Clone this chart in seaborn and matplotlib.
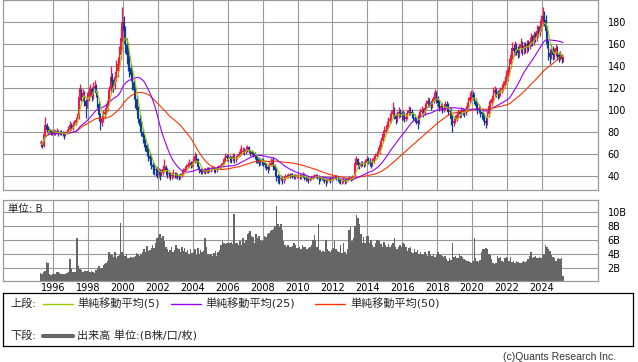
import numpy as np
import pandas as pd
import seaborn as sns
import matplotlib.pyplot as plt

sns.set_theme(style="whitegrid")
plt.rcParams['font.family'] = ['DejaVu Sans', 'Noto Sans CJK JP']

# monthly candles, first one is April 1995
start_year = 1995
start_month = 4

close = [
    70, 67, 78, 86, 82, 81, 82, 80, 79,                      # 1995 Apr-Dec
    80, 79, 81, 78, 80, 79, 78, 77, 79, 80, 82, 86,          # 1996
    84, 86, 88, 91, 93, 112, 118, 112, 115, 108, 104, 112,   # 1997
    116, 119, 112, 120, 122, 115, 105, 95, 88, 92, 96, 98,   # 1998
    102, 108, 118, 130, 125, 122, 130, 135, 142, 150, 165, 180,  # 1999
    172, 160, 150, 142, 138, 132, 125, 118, 110, 100, 92, 85,    # 2000
    80, 75, 70, 68, 62, 58, 55, 50, 48, 46, 45, 44,          # 2001
    44, 42, 43, 46, 48, 45, 42, 42, 40, 41, 42, 41,          # 2002
    41, 40, 39, 40, 42, 44, 46, 48, 50, 52, 50, 51,          # 2003
    54, 58, 55, 48, 45, 44, 44, 45, 44, 46, 45, 46,          # 2004
    46, 47, 46, 45, 47, 48, 48, 50, 52, 55, 58, 56,          # 2005
    57, 56, 55, 58, 55, 56, 58, 60, 62, 62, 63, 62,          # 2006
    64, 66, 63, 60, 62, 60, 58, 56, 55, 52, 54, 53,          # 2007
    52, 50, 48, 46, 50, 52, 52, 50, 45, 40, 38, 37,          # 2008
    38, 36, 37, 39, 40, 41, 40, 41, 40, 39, 40, 40,          # 2009
    40, 39, 40, 42, 38, 37, 38, 36, 37, 38, 39, 40,          # 2010
    40, 39, 38, 37, 38, 37, 36, 35, 36, 37, 36, 38,          # 2011
    38, 39, 38, 37, 36, 35, 35, 36, 35, 36, 37, 38,          # 2012
    37, 39, 40, 52, 55, 50, 49, 52, 51, 50, 53, 55,          # 2013
    54, 52, 50, 53, 56, 58, 60, 62, 68, 72, 78, 80,          # 2014
    82, 86, 90, 92, 96, 100, 95, 92, 96, 98, 97, 95,         # 2015
    96, 92, 94, 97, 100, 98, 96, 93, 92, 90, 88, 95,         # 2016
    98, 100, 97, 102, 105, 108, 106, 104, 108, 112, 115, 110,    # 2017
    106, 102, 104, 100, 102, 105, 103, 98, 100, 92, 88, 90,      # 2018
    92, 95, 98, 96, 100, 98, 97, 100, 104, 108, 112, 114,        # 2019
    112, 108, 104, 100, 102, 98, 96, 94, 90, 88, 96, 104,        # 2020
    106, 110, 115, 118, 116, 114, 116, 118, 120, 122, 126, 130,  # 2021
    136, 142, 150, 156, 154, 158, 155, 152, 156, 160, 155, 158,  # 2022
    156, 160, 158, 162, 165, 162, 168, 166, 172, 170, 176, 180,  # 2023
    185, 182, 172, 160, 152, 148, 155, 150, 152, 156, 150, 148,  # 2024
    150, 146, 147,                                           # 2025 Jan-Mar
]

high = [
    73, 71, 80, 94, 88, 85, 84, 83, 82,
    83, 82, 84, 82, 82, 82, 81, 80, 81, 83, 85, 90,
    88, 89, 91, 94, 97, 120, 124, 120, 119, 117, 110, 116,
    121, 124, 121, 125, 127, 124, 117, 108, 97, 95, 100, 101,
    106, 112, 122, 140, 134, 128, 135, 145, 148, 158, 175, 194,
    185, 176, 165, 161, 150, 142, 136, 130, 122, 114, 104, 96,
    90, 84, 78, 74, 70, 65, 61, 58, 53, 51, 49, 48,
    47, 46, 46, 50, 55, 50, 47, 45, 44, 44, 46, 44,
    44, 43, 42, 43, 45, 47, 49, 51, 53, 55, 54, 54,
    57, 62, 60, 56, 49, 47, 46, 47, 47, 48, 48, 48,
    48, 49, 49, 47, 49, 50, 50, 52, 54, 57, 61, 60,
    60, 59, 58, 61, 60, 58, 60, 63, 65, 68, 66, 65,
    67, 68, 67, 64, 64, 63, 62, 60, 58, 57, 56, 56,
    55, 54, 52, 50, 53, 56, 55, 57, 51, 47, 42, 41,
    41, 40, 40, 42, 42, 43, 43, 43, 43, 42, 42, 42,
    42, 42, 42, 44, 43, 40, 40, 39, 39, 40, 41, 42,
    42, 42, 41, 40, 40, 39, 39, 38, 38, 39, 39, 40,
    40, 41, 41, 40, 39, 37, 37, 38, 37, 38, 39, 40,
    39, 41, 42, 56, 58, 56, 53, 54, 54, 53, 55, 58,
    57, 56, 54, 56, 59, 61, 63, 66, 71, 75, 82, 85,
    86, 90, 94, 97, 100, 107, 103, 97, 99, 103, 101, 99,
    100, 98, 97, 100, 104, 103, 101, 98, 96, 94, 93, 99,
    102, 104, 102, 106, 109, 112, 111, 108, 111, 116, 119, 117,
    113, 109, 107, 106, 105, 108, 108, 106, 103, 102, 95, 94,
    95, 98, 101, 100, 103, 102, 101, 103, 107, 112, 116, 118,
    117, 115, 111, 107, 105, 104, 101, 99, 97, 94, 99, 108,
    110, 114, 121, 122, 120, 118, 119, 121, 124, 126, 131, 136,
    140, 147, 155, 162, 160, 163, 161, 158, 160, 165, 163, 162,
    162, 164, 164, 166, 170, 168, 172, 171, 177, 176, 182, 186,
    194, 190, 186, 176, 164, 155, 160, 158, 156, 160, 158, 153,
    154, 151, 149,
]

low = [
    66, 65, 66, 76, 80, 78, 79, 77, 77,
    77, 77, 78, 76, 77, 77, 76, 74, 76, 78, 79, 81,
    82, 82, 85, 86, 89, 92, 109, 108, 108, 104, 93, 102,
    108, 112, 108, 110, 117, 112, 102, 90, 82, 85, 89, 93,
    96, 99, 105, 115, 120, 116, 119, 126, 130, 138, 146, 162,
    162, 152, 142, 135, 130, 126, 118, 110, 102, 95, 88, 80,
    76, 70, 66, 63, 58, 54, 50, 46, 42, 41, 40, 38,
    39, 36, 40, 41, 44, 41, 38, 38, 36, 37, 38, 38,
    38, 37, 36, 37, 39, 41, 43, 45, 47, 48, 47, 48,
    50, 52, 53, 46, 43, 42, 42, 43, 42, 43, 43, 44,
    44, 45, 44, 43, 44, 46, 46, 47, 49, 51, 54, 54,
    54, 53, 52, 54, 52, 53, 55, 57, 58, 59, 60, 59,
    60, 62, 61, 58, 58, 57, 55, 52, 52, 49, 50, 50,
    49, 47, 45, 43, 45, 49, 49, 45, 40, 35, 34, 33,
    35, 33, 34, 36, 38, 38, 38, 39, 38, 37, 37, 38,
    38, 37, 37, 39, 36, 35, 35, 34, 35, 36, 37, 38,
    38, 37, 33, 35, 36, 35, 34, 31, 34, 35, 34, 35,
    36, 37, 36, 35, 34, 33, 33, 34, 33, 34, 35, 36,
    35, 36, 38, 40, 50, 47, 46, 48, 49, 48, 49, 52,
    51, 49, 47, 49, 52, 55, 57, 58, 60, 65, 70, 75,
    78, 80, 84, 87, 89, 94, 92, 87, 89, 93, 94, 91,
    91, 89, 90, 92, 95, 95, 93, 90, 89, 87, 83, 87,
    93, 96, 94, 95, 100, 103, 103, 100, 102, 106, 109, 106,
    103, 99, 100, 97, 98, 100, 100, 95, 95, 86, 80, 85,
    88, 90, 93, 93, 94, 95, 94, 95, 98, 102, 106, 109,
    109, 105, 100, 96, 97, 94, 92, 90, 86, 84, 86, 94,
    101, 103, 107, 112, 112, 110, 111, 113, 115, 117, 120, 124,
    126, 132, 138, 146, 149, 150, 150, 147, 148, 152, 150, 151,
    152, 152, 154, 155, 158, 158, 159, 162, 163, 166, 167, 172,
    176, 176, 168, 156, 145, 142, 146, 145, 146, 149, 145, 144,
    145, 143, 144,
]

# volume in billions (B)
volume = [
    1.2, 1.0, 1.3, 1.5, 2.8, 2.6, 1.0, 0.9, 1.0,
    1.0, 1.1, 1.3, 1.4, 1.2, 1.0, 1.0, 1.1, 1.1, 1.2, 1.3, 3.2,
    2.0, 1.4, 1.3, 1.4, 6.2, 2.2, 1.8, 1.6, 1.4, 1.5, 1.5, 1.5,
    1.5, 1.4, 1.5, 1.4, 1.2, 1.6, 2.0, 2.2, 1.8, 2.0, 2.3, 2.5,
    2.6, 3.0, 4.3, 4.0, 3.8, 3.5, 4.2, 3.4, 3.6, 3.8, 8.4, 4.2,
    4.0, 3.6, 3.9, 3.4, 3.3, 3.5, 3.4, 3.5, 3.7, 4.1, 3.9, 3.6,
    4.0, 4.2, 4.6, 4.3, 5.1, 4.4, 4.5, 4.8, 5.2, 4.8, 5.5, 6.2,
    6.5, 6.8, 6.2, 6.5, 5.8, 5.0, 4.6, 4.3, 4.5, 5.0, 4.2, 4.5,
    5.2, 4.8, 4.6, 4.3, 5.0, 4.4, 4.8, 4.2, 4.5, 4.0, 4.6, 4.1,
    4.3, 4.6, 3.8, 4.8, 3.9, 4.5, 4.2, 4.4, 6.3, 5.0, 4.0, 3.8,
    4.0, 3.7, 4.1, 4.4, 3.6, 4.3, 4.5, 5.3, 5.8, 5.6, 5.4, 5.6,
    5.6, 5.5, 5.7, 5.4, 9.7, 5.5, 5.6, 5.3, 5.8, 5.2, 6.2, 5.6,
    6.0, 6.8, 7.0, 7.2, 6.6, 6.4, 5.6, 6.8, 6.2, 6.6, 6.0, 5.8,
    6.0, 6.6, 6.4, 6.8, 7.0, 7.2, 7.4, 7.6, 8.0, 10.8, 8.2, 7.8,
    8.2, 7.4, 5.8, 5.2, 4.9, 5.3, 5.0, 4.9, 5.1, 5.5, 5.2, 4.8,
    4.8, 5.0, 4.7, 5.2, 4.9, 5.0, 4.6, 4.8, 5.0, 5.3, 6.0, 6.7,
    6.0, 5.0, 8.2, 4.5, 4.2, 4.4, 4.3, 6.0, 4.6, 4.4, 4.2, 4.5,
    4.8, 5.8, 4.6, 4.4, 4.2, 5.2, 4.1, 5.6, 4.3, 4.0, 4.6, 7.4,
    7.8, 5.8, 6.2, 8.0, 9.5, 9.2, 8.3, 6.8, 5.6, 6.4, 5.5, 6.5,
    6.5, 5.6, 6.0, 5.2, 5.0, 5.5, 6.0, 5.9, 5.8, 5.4, 5.0, 5.7,
    5.2, 5.0, 5.4, 4.9, 5.2, 5.6, 6.3, 5.0, 4.7, 4.9, 5.2, 5.0,
    5.6, 5.4, 4.9, 4.4, 4.8, 5.0, 4.3, 4.1, 4.6, 4.2, 4.5, 4.0,
    4.3, 4.0, 3.8, 4.2, 3.9, 3.6, 4.4, 3.8, 3.7, 4.0, 3.5, 3.8,
    4.2, 4.0, 3.8, 3.6, 3.5, 3.7, 3.2, 2.9, 3.4, 3.1, 5.5, 3.5,
    3.6, 3.3, 3.4, 3.9, 3.7, 3.5, 3.2, 3.1, 2.9, 3.0, 2.8, 2.7,
    2.9, 6.3, 3.3, 3.0, 2.8, 3.1, 4.3, 4.7, 4.7, 4.8, 4.6, 4.0,
    3.8, 3.2, 2.6, 2.5, 2.6, 3.6, 3.4, 3.5, 3.0, 2.8, 3.4, 3.5,
    3.3, 3.0, 3.5, 2.8, 2.9, 2.7, 2.9, 2.8, 2.7, 2.6, 2.8, 2.9,
    2.8, 3.0, 3.2, 3.6, 4.2, 3.4, 3.5, 3.6, 3.4, 3.3, 3.5, 3.4,
    3.8, 4.0, 5.2, 4.9, 4.6, 4.4, 3.8, 3.5, 3.3, 3.0, 3.2, 3.4,
    3.2, 3.3, 0.8,
]

year_ticks = list(range(1996, 2025, 2))
price_ticks = [40, 60, 80, 100, 120, 140, 160, 180]
volume_ticks = [2, 4, 6, 8, 10]
volume_tick_labels = ['2B', '4B', '6B', '8B', '10B']

ma_windows = [5, 25, 50]
ma_colors = ['#99cc00', '#9900ff', '#ff3300']
ma_labels = ['単純移動平均(5)', '単純移動平均(25)', '単純移動平均(50)']

up_color = '#f5164a'
down_color = '#0a3c9c'
vol_color = '#666666'
grid_color = '#999999'

df = pd.DataFrame({'close': close, 'high': high, 'low': low, 'volume': volume})
df['open'] = df['close'].shift(1).fillna(df['close'].iloc[0])
df['t'] = start_year + (start_month - 1) / 12 + np.arange(len(df)) / 12 + 1 / 24
df['high'] = df[['high', 'open', 'close']].max(axis=1)
df['low'] = df[['low', 'open', 'close']].min(axis=1)
for w in ma_windows:
    df[f'ma{w}'] = df['close'].rolling(w, min_periods=1).mean()

W, H = 638, 362
fig = plt.figure(figsize=(W / 100, H / 100), dpi=100)
fig.patch.set_facecolor('white')

x0, x1 = 1993.15, 2027.21
left = 3.3 / W
width = (598 - 3.3) / W
ax = fig.add_axes([left, (H - 190) / H, width, 190 / H])
axv = fig.add_axes([left, (H - 281.4) / H, width, (281.4 - 200) / H])

for a in (ax, axv):
    a.set_facecolor('white')
    a.set_xlim(x0, x1)
    a.set_xticks(year_ticks)
    a.grid(True, color=grid_color, linewidth=0.8)
    a.set_axisbelow(True)
    a.yaxis.tick_right()
    a.tick_params(length=0, labelsize=7, colors='black', pad=7)
    for s in a.spines.values():
        s.set_color(grid_color)
        s.set_linewidth(0.9)

# candles
up = df['close'] >= df['open']
for mask, col in ((up, up_color), (~up, down_color)):
    d = df[mask]
    ax.vlines(d['t'], d['low'], d['high'], color=col, linewidth=0.9, zorder=2)
    body_lo = np.minimum(d['open'], d['close'])
    body_h = np.maximum(np.abs(d['close'] - d['open']), 0.8)
    ax.bar(d['t'], body_h, bottom=body_lo, width=0.08, color=col, linewidth=0, zorder=2)

for w, col in zip(ma_windows[::-1], ma_colors[::-1]):
    sns.lineplot(x=df['t'], y=df[f'ma{w}'], ax=ax, color=col, linewidth=0.8, zorder=3, errorbar=None)

ax.set_ylim(27.27, 200)
ax.set_yticks(price_ticks)
ax.set_xticklabels([])
ax.set(xlabel='', ylabel='')

# volume
axv.bar(df['t'], df['volume'], width=1 / 12, color=vol_color, linewidth=0)
axv.set_ylim(0, 11.73)
axv.set_yticks(volume_ticks)
axv.set_yticklabels(volume_tick_labels)
axv.set_xticklabels([str(y) for y in year_ticks])
axv.tick_params(axis='x', pad=1.5)
axv.text(0.008, 0.89, '単位: B', transform=axv.transAxes, fontsize=7.5, va='center', ha='left')

# legend box
lg = fig.add_axes([left, (H - 346) / H, (632.6 - 3.3) / W, 53 / H])
lg.set_xlim(0, 629.3)
lg.set_ylim(53, 0)
lg.set_xticks([])
lg.set_yticks([])
lg.set_facecolor('white')
for s in lg.spines.values():
    s.set_color('black')
    s.set_linewidth(0.9)

r1, r2 = 11, 42.5
lg.text(7, r1, '上段:', fontsize=8, va='center')
lg.text(7, r2, '下段:', fontsize=8, va='center')
for (lx, tx), col, lab in zip([(40, 74), (168, 202), (312, 347)], ma_colors, ma_labels):
    lg.plot([lx, lx + 30], [r1, r1], color=col, linewidth=1)
    lg.text(tx, r1, lab, fontsize=8, va='center')
lg.plot([40, 70], [r2, r2], color=vol_color, linewidth=3)
lg.text(74, r2, '出来高 単位:(B株/口/枚)', fontsize=8, va='center')

fig.text(616 / W, 1 - 357 / H, '(c)Quants Research Inc.', ha='right', va='center',
         fontsize=7.5, color='#333333', family=['Liberation Sans', 'DejaVu Sans'])

fig.savefig('out.png', dpi=100)
